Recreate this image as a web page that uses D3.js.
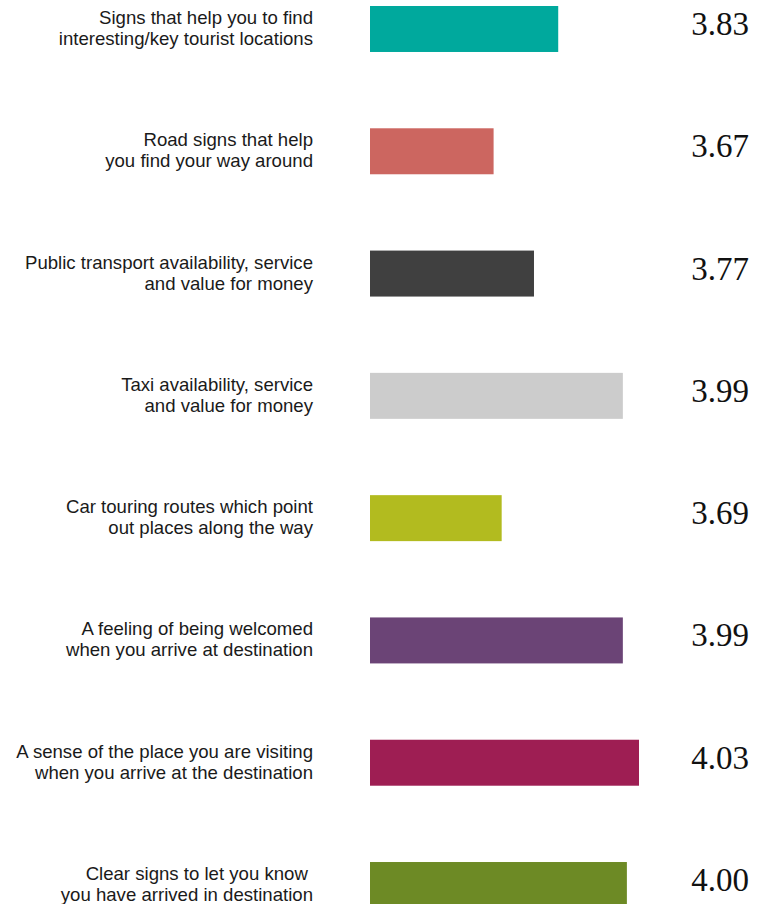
<!DOCTYPE html>
<html>
<head>
<meta charset="utf-8">
<script src="https://cdn.jsdelivr.net/npm/d3@7"></script>
<style>
  html, body { margin: 0; padding: 0; background: #ffffff; }
  svg { display: block; }
</style>
</head>
<body>
<div id="chart"></div>
<script>
// ---- data ----
const categories = [
  ["Signs that help you to find", "interesting/key tourist locations"],
  ["Road signs that help", "you find your way around"],
  ["Public transport availability, service", "and value for money"],
  ["Taxi availability, service", "and value for money"],
  ["Car touring routes which point", "out places along the way"],
  ["A feeling of being welcomed", "when you arrive at destination"],
  ["A sense of the place you are visiting", "when you arrive at the destination"],
  ["Clear signs to let you know ", "you have arrived in destination"]
];
const values = [3.83, 3.67, 3.77, 3.99, 3.69, 3.99, 4.03, 4.00];
const valueLabels = ["3.83", "3.67", "3.77", "3.99", "3.69", "3.99", "4.03", "4.00"];
const colors = ["#00a99d", "#cc6660", "#404040", "#cccccc", "#b2bb1f", "#6b4476", "#9e1e53", "#6d8a25"];

// ---- layout ----
const W = 769, H = 904;
const svg = d3.select("#chart").append("svg")
  .attr("width", W).attr("height", H);

const ids = d3.range(categories.length);
const y = d3.scaleBand().domain(ids).range([6, 908]).paddingInner(0.624).paddingOuter(0);
const x = d3.scaleLinear().domain([3.364, 4.03]).range([370, 639]);

const rows = svg.selectAll("g.row").data(ids).join("g").attr("class", "row");

rows.append("rect")
  .attr("x", x.range()[0])
  .attr("y", i => y(i))
  .attr("width", i => x(values[i]) - x.range()[0])
  .attr("height", y.bandwidth())
  .attr("fill", i => colors[i]);

const lab = rows.append("text")
  .attr("text-anchor", "end")
  .attr("font-family", "'Liberation Sans', Arial, sans-serif")
  .attr("font-size", 18.6)
  .attr("fill", "#1a1a1a")
  .style("white-space", "pre");
lab.each(function(i) {
  const c = y(i) + y.bandwidth() / 2;
  const t = d3.select(this);
  t.append("tspan").attr("x", 313).attr("y", c - 5).text(categories[i][0]);
  t.append("tspan").attr("x", 313).attr("y", c + 16).text(categories[i][1]);
});

rows.append("text")
  .attr("text-anchor", "end")
  .attr("x", 749)
  .attr("y", i => y(i) + y.bandwidth() / 2 + 6)
  .attr("font-family", "'Liberation Serif', 'Times New Roman', serif")
  .attr("font-size", 33)
  .attr("fill", "#111111")
  .text(i => valueLabels[i]);
</script>
</body>
</html>
